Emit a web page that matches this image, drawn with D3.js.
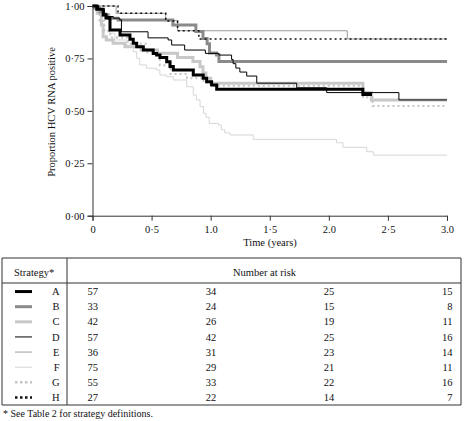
<!DOCTYPE html>
<html><head><meta charset="utf-8">
<script src="https://cdn.jsdelivr.net/npm/d3@7"></script>
<style>body{margin:0;background:#fff}svg{display:block}text{font-family:"Liberation Serif","Times New Roman",serif;fill:#111}</style>
</head><body><svg id="c" width="465" height="421"></svg>
<script>
const strategies = ["A","B","C","D","E","F","G","H"];
const A_t = [0,0.036,0.091,0.114,0.148,0.233,0.317,0.345,0.374,0.43,0.514,0.543,0.571,0.628,0.656,0.684,0.853,0.937,0.966,1.008,1.051,2.288,2.365];
const A_s = [1.0,0.985,0.957,0.943,0.886,0.862,0.841,0.822,0.806,0.790,0.774,0.766,0.755,0.734,0.711,0.695,0.671,0.655,0.639,0.623,0.603,0.578,0.578];
const B_t = [0,0.02,0.06,0.09,0.13,0.216,0.68,0.875,0.935,0.97,0.99,1.05,1.07,3.0];
const B_s = [1.0,0.99,0.973,0.957,0.941,0.933,0.909,0.878,0.845,0.82,0.776,0.766,0.735,0.735];
const C_t = [0,0.04,0.075,0.09,0.117,0.174,0.274,0.41,0.55,0.72,0.85,0.91,0.935,0.96,1.0,2.288,2.36,3.0];
const C_s = [1.0,0.965,0.909,0.853,0.838,0.822,0.806,0.79,0.775,0.755,0.735,0.71,0.68,0.655,0.632,0.588,0.552,0.552];
const D_t = [0,0.05,0.1,0.12,0.175,0.23,0.245,0.47,0.64,0.67,0.78,0.955,1.07,1.177,1.19,1.213,1.247,1.305,1.39,1.728,1.982,2.593,3.0];
const D_s = [1.0,0.984,0.965,0.95,0.942,0.934,0.877,0.848,0.838,0.814,0.790,0.774,0.766,0.745,0.725,0.704,0.685,0.666,0.632,0.610,0.587,0.552,0.552];
const E_t = [0,0.2,0.62,0.72,2.156,3.0];
const E_s = [1.0,0.965,0.93,0.882,0.843,0.843];
const F_t = [0,0.02,0.064,0.148,0.19,0.29,0.345,0.374,0.40,0.458,0.54,0.57,0.627,0.683,0.797,0.853,0.88,0.91,0.94,0.96,0.988,1.05,1.065,1.09,1.12,1.163,1.36,2.065,2.12,2.32,2.376,3.0];
const F_s = [1.0,0.99,0.965,0.87,0.838,0.806,0.782,0.75,0.719,0.703,0.695,0.671,0.663,0.647,0.615,0.575,0.552,0.520,0.488,0.47,0.44,0.44,0.432,0.41,0.395,0.385,0.364,0.348,0.326,0.305,0.289,0.289];
const G_t = [0,0.03,0.06,0.1,0.15,0.3,0.45,0.57,0.66,0.8,0.94,1.0,2.29,2.37,3.0];
const G_s = [1.0,0.975,0.93,0.88,0.85,0.82,0.78,0.718,0.676,0.656,0.635,0.62,0.565,0.523,0.523];
const H_t = [0,0.216,0.62,0.72,0.9,3.0];
const H_s = [1.0,0.965,0.928,0.882,0.843,0.843];
const atRiskTimes = [0,1,2,3];
const atRisk_A = [57,34,25,15];
const atRisk_B = [33,24,15,8];
const atRisk_C = [42,26,19,11];
const atRisk_D = [57,42,25,16];
const atRisk_E = [36,31,23,14];
const atRisk_F = [75,29,21,11];
const atRisk_G = [55,33,22,16];
const atRisk_H = [27,22,14,7];
const xTicks = [0,0.5,1,1.5,2,2.5,3];
const xTickLabels = ["0","0·5","1.0","1·5","2.0","2·5","3.0"];
const yTicks = [0,0.25,0.5,0.75,1];
const yTickLabels = ["0·00","0·25","0·50","0·75","1·00"];

const times = {A:A_t,B:B_t,C:C_t,D:D_t,E:E_t,F:F_t,G:G_t,H:H_t};
const surv = {A:A_s,B:B_s,C:C_s,D:D_s,E:E_s,F:F_s,G:G_s,H:H_s};
const risk = {A:atRisk_A,B:atRisk_B,C:atRisk_C,D:atRisk_D,E:atRisk_E,F:atRisk_F,G:atRisk_G,H:atRisk_H};
const style = {
  A:{c:"#000",w:3,d:null},
  B:{c:"#8a8a8a",w:3,d:null},
  C:{c:"#c8c8c8",w:3,d:null},
  D:{c:"#000",w:1,d:null},
  E:{c:"#9a9a9a",w:1,d:null},
  F:{c:"#d6d6d6",w:1,d:null},
  G:{c:"#c4c4c4",w:2,d:"2,3"},
  H:{c:"#111",w:1.5,d:"2,3"}
};
const drawOrder = ["F","E","C","B","G","A","H","D"];

const svg = d3.select("#c");
const x = d3.scaleLinear().domain([0,3]).range([92.5,447]);
const y = d3.scaleLinear().domain([0,1]).range([215.7,6]);

const line = d3.line().curve(d3.curveStepAfter).x(d=>x(d[0])).y(d=>y(d[1]));
drawOrder.forEach(k=>{
  const pts = times[k].map((t,i)=>[t,surv[k][i]]);
  svg.append("path").attr("d",line(pts)).attr("fill","none")
    .attr("stroke",style[k].c).attr("stroke-width",style[k].w)
    .attr("stroke-dasharray",style[k].d);
});

const xAxis = svg.append("g").attr("transform",`translate(0,${y(0)})`)
  .call(d3.axisBottom(x).tickValues(xTicks).tickFormat((d,i)=>xTickLabels[i]).tickSizeOuter(0).tickSize(5).tickPadding(5));
const yAxis = svg.append("g").attr("transform",`translate(${x(0)},0)`)
  .call(d3.axisLeft(y).tickValues(yTicks).tickFormat((d,i)=>yTickLabels[i]).tickSizeOuter(0).tickSize(5).tickPadding(3));
[xAxis,yAxis].forEach(g=>{
  g.selectAll("path,line").attr("stroke","#333");
  g.selectAll("text").attr("font-family","Liberation Serif").attr("font-size",10.5).attr("fill","#111");
});

svg.append("text").attr("x",270).attr("y",246).attr("text-anchor","middle").attr("font-size",10.5).text("Time (years)");
svg.append("text").attr("transform",`translate(55,112) rotate(-90)`).attr("text-anchor","middle").attr("font-size",10.5).text("Proportion HCV RNA positive");

// table
const T = {l:2,r:461,top:258,head:283,bot:405,div:67};
const tg = svg.append("g");
const ln = (x1,y1,x2,y2)=>tg.append("line").attr("x1",x1).attr("y1",y1).attr("x2",x2).attr("y2",y2).attr("stroke","#333").attr("stroke-width",1);
ln(T.l,T.top,T.r,T.top); ln(T.l,T.head,T.r,T.head); ln(T.l,T.bot,T.r,T.bot);
ln(T.l,T.top,T.l,T.bot); ln(T.r,T.top,T.r,T.bot); ln(T.div,T.top,T.div,T.bot);
tg.append("text").attr("x",14).attr("y",276).attr("font-size",10.5).text("Strategy*");
tg.append("text").attr("x",233).attr("y",276).attr("font-size",10.5).text("Number at risk");

const row = d3.scaleBand().domain(strategies).range([284,405]);
strategies.forEach(k=>{
  const cy = row(k)+row.bandwidth()/2;
  tg.append("line").attr("x1",15).attr("x2",32).attr("y1",cy).attr("y2",cy)
    .attr("stroke",style[k].c).attr("stroke-width",style[k].w===1?1:(k==="G"||k==="H"?2.5:3))
    .attr("stroke-dasharray",style[k].d?"2.5,2.5":null);
  tg.append("text").attr("x",59.5).attr("y",cy+3.6).attr("text-anchor","end").attr("font-size",10.5).text(k);
  risk[k].forEach((v,i)=>{
    tg.append("text").attr("x",x(atRiskTimes[i])+5.5).attr("y",cy+3.6).attr("text-anchor","end").attr("font-size",10.5).text(v);
  });
});
svg.append("text").attr("x",3).attr("y",417).attr("font-size",10).text("* See Table 2 for strategy definitions.");
</script></body></html>
